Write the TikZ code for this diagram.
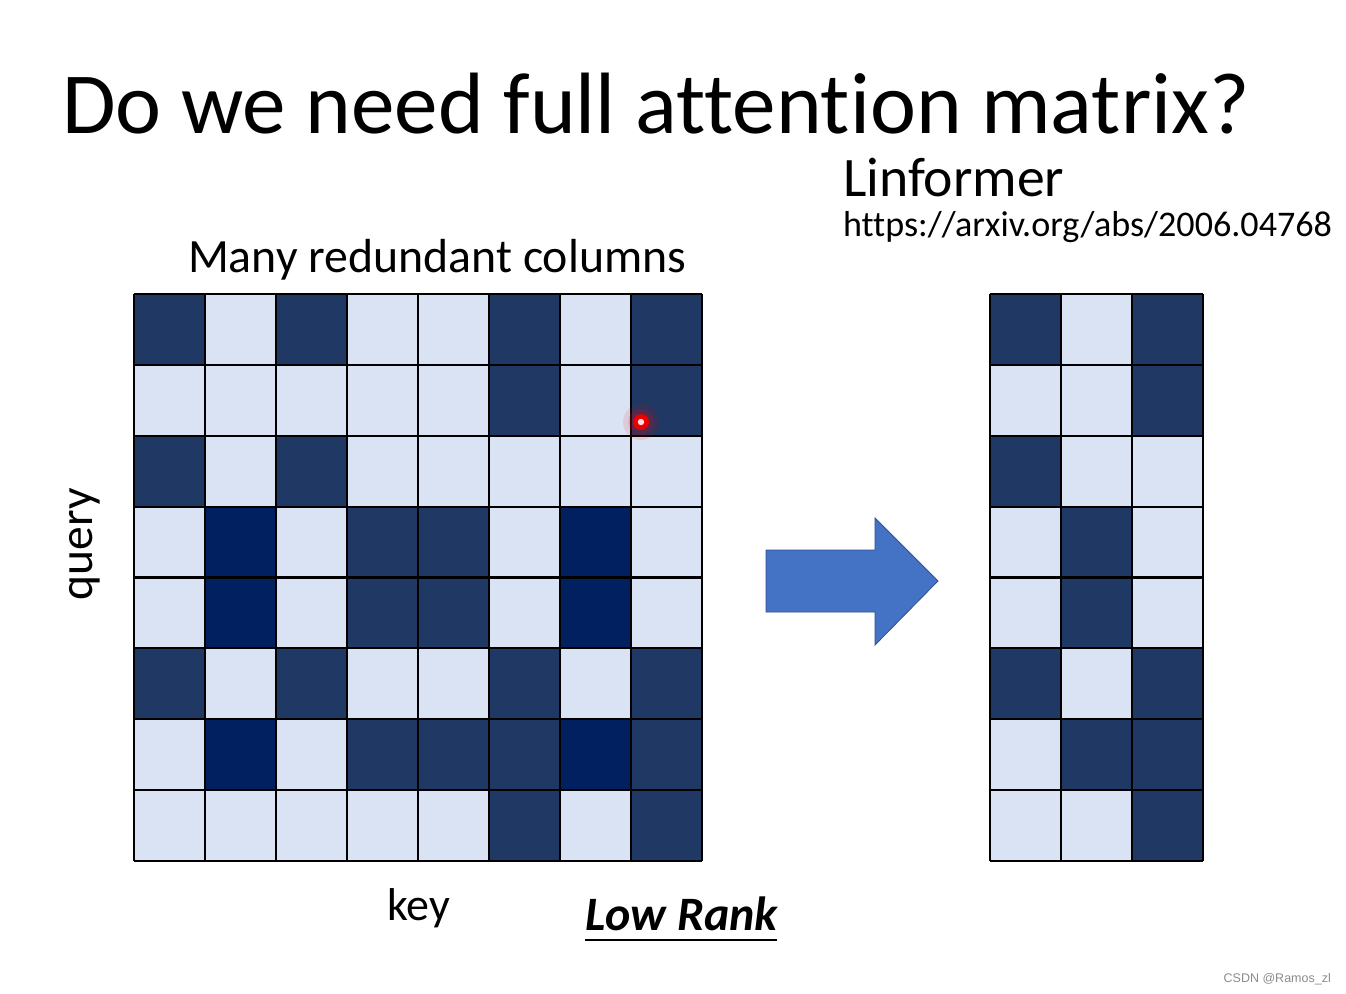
\documentclass[tikz,border=0pt]{standalone}
\usepackage{fontspec}
\setmainfont{Carlito}[Ligatures={NoCommon}]
\newfontfamily\wmfont{Liberation Sans}
\definecolor{lightc}{HTML}{DAE3F3}
\definecolor{darkc}{HTML}{1F3864}
\definecolor{navyc}{HTML}{002060}
\definecolor{arrowc}{HTML}{4472C4}
\definecolor{arrowedge}{HTML}{2F528F}
\tikzset{
  c0/.style={fill=lightc},
  c1/.style={fill=darkc},
  c2/.style={fill=navyc},
  gridline/.style={line width=2.2pt, black},
  txt/.style={inner sep=0pt, outer sep=0pt, anchor=base west},
}
\begin{document}
\begin{tikzpicture}[x=1pt,y=-1pt]
\useasboundingbox (0,0) rectangle (1346,993);
\fill[white] (0,0) rectangle (1346,993);

% title and texts
\node[txt] (title) at (62,133) {\fontsize{87.1}{90}\selectfont Do we need full attention matrix?};
\node[txt] (lin) at (843,196) {\fontsize{55.7}{60}\selectfont Linformer};
\node[txt] (url) at (843,236) {\fontsize{36.1}{40}\selectfont https://arxiv.org/abs/2006.04768};
\node[txt] (many) at (188,272) {\fontsize{47.8}{52}\selectfont Many redundant columns};
\node[txt] (key) at (387,920) {\fontsize{46}{50}\selectfont key};
\node[txt, rotate=90] (query) at (92,600) {\fontsize{47.5}{52}\selectfont query};
\node[txt] (lowrank) at (585,930) {\fontsize{48}{52}\selectfont\bfseries\itshape Low Rank};
\draw[line width=2.6pt] (585,940) -- (777,940);
\node[inner sep=0pt, anchor=base east, text=black!45] (wm) at (1331,982) {\fontsize{12.5}{14}\selectfont\wmfont CSDN @Ramos\_zl};

% left matrix
\foreach \row [count=\r from 0] in {{1,0,1,0,0,1,0,1},{0,0,0,0,0,1,0,1},{1,0,1,0,0,0,0,0},{0,2,0,1,1,0,2,0},{0,2,0,1,1,0,2,0},{1,0,1,0,0,1,0,1},{0,2,0,1,1,1,2,1},{0,0,0,0,0,1,0,1}} {
  \foreach \v [count=\c from 0] in \row {
    \path[c\v] (134+71*\c,294+70.875*\r) rectangle ++(71,70.875);
  }
}
\foreach \i in {0,...,8} {
  \draw[gridline] (134+71*\i,294) -- (134+71*\i,861);
  \draw[gridline] (134,294+70.875*\i) -- (702,294+70.875*\i);
}

% right matrix
\foreach \row [count=\r from 0] in {{1,0,1},{0,0,1},{1,0,0},{0,1,0},{0,1,0},{1,0,1},{0,1,1},{0,0,1}} {
  \foreach \v [count=\c from 0] in \row {
    \path[c\v] (990+71*\c,294+70.875*\r) rectangle ++(71,70.875);
  }
}
\foreach \i in {0,...,3} {
  \draw[gridline] (990+71*\i,294) -- (990+71*\i,861);
}
\foreach \i in {0,...,8} {
  \draw[gridline] (990,294+70.875*\i) -- (1203,294+70.875*\i);
}

% block arrow
\draw[fill=arrowc, draw=arrowedge, line width=0.8pt, line join=miter]
  (766,550) -- (875,550) -- (875,518) -- (938,581) -- (875,645) -- (875,612) -- (766,612) -- cycle;

% red pointer dot
\fill[red, opacity=0.10] (641,422) circle (18);
\fill[red, opacity=0.15] (641,422) circle (13);
\fill[red!92!black] (641,422) circle (8);
\fill[red!12] (641,422) circle (3.2);
\end{tikzpicture}
\end{document}
